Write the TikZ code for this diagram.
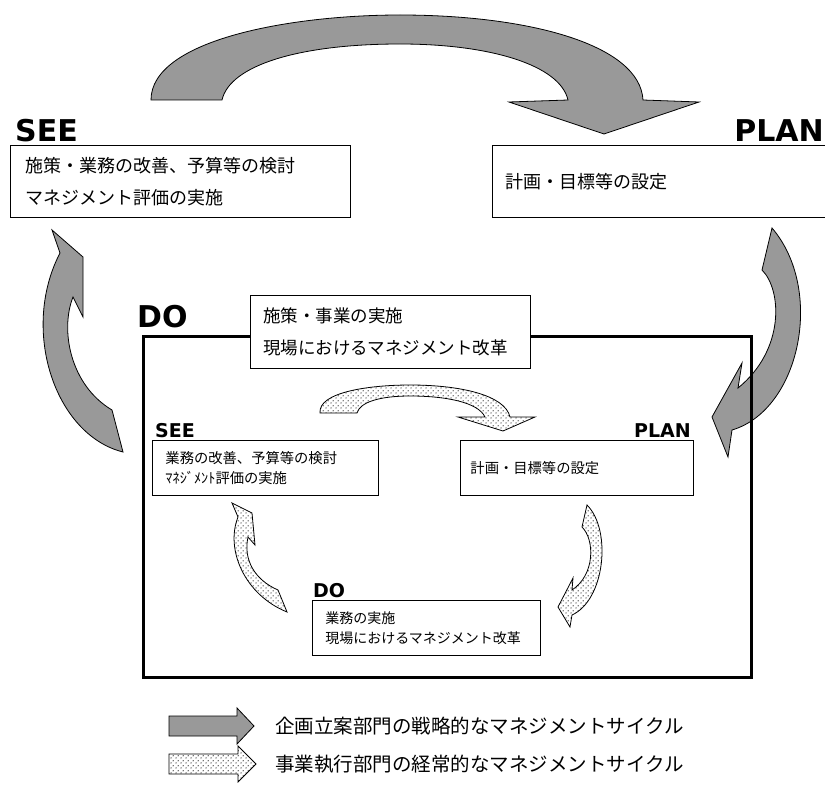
\documentclass[tikz,border=0pt]{standalone}
\usepackage{fontspec}
\newfontfamily\cjk{Noto Sans CJK JP}
\newfontfamily\lblfont{DejaVu Sans Bold}
\usetikzlibrary{patterns}
\definecolor{arrowgray}{RGB}{153,153,153}
\pgfdeclarepatternformonly{sdots}{\pgfqpoint{0pt}{0pt}}{\pgfqpoint{5pt}{5pt}}{\pgfqpoint{5pt}{5pt}}{%
  \pgfpathcircle{\pgfqpoint{1.25pt}{1.25pt}}{0.8pt}%
  \pgfpathcircle{\pgfqpoint{3.75pt}{3.75pt}}{0.8pt}%
  \pgfusepath{fill}}
\tikzset{
  biglbl/.style={font=\lblfont\fontsize{30}{30}\selectfont, inner sep=0pt},
  smalllbl/.style={font=\lblfont\fontsize{19}{19}\selectfont, inner sep=0pt},
  bigbox/.style={draw, line width=0.9pt, fill=white, anchor=north west, inner ysep=0pt, align=left,
    font=\cjk\fontsize{18}{32}\selectfont},
  smallbox/.style={draw, line width=0.9pt, fill=white, anchor=north west, inner ysep=0pt, align=left,
    font=\cjk\fontsize{14.3}{20}\selectfont},
  bigarrow/.style={draw=black, line width=0.8pt, fill=arrowgray},
  smallarrow/.style={draw=black, line width=0.8pt, preaction={fill=white}, pattern=sdots, pattern color=black!75},
  legtext/.style={font=\cjk\fontsize{19.5}{20}\selectfont, inner sep=0pt, anchor=west}
}
\begin{document}
\begin{tikzpicture}[x=1pt,y=-1pt]
\useasboundingbox (0,0) rectangle (825,789);
\fill[white] (0,0) rectangle (825,789);

% big top arrow
\path[bigarrow] (151,100) .. controls (151,40) and (290,15) .. (400,15)
  .. controls (530,15) and (640,45) .. (643,100) -- (699,102) -- (604,134) -- (509,102) -- (568,100)
  .. controls (560,65) and (490,44) .. (400,44) .. controls (300,44) and (230,65) .. (222,100) -- cycle;

% big left arrow
\path[bigarrow] (52,230) -- (83,257) -- (83,317) -- (73,297)
  .. controls (60,330) and (70,385) .. (112,410) -- (123,452)
  .. controls (55,435) and (20,330) .. (60,253) -- cycle;

% big right arrow
\path[bigarrow] (772,228) -- (762,270) .. controls (782,290) and (785,350) .. (738,388)
  -- (742,363) -- (712,417) -- (728,457) -- (732,430)
  .. controls (800,410) and (825,290) .. (772,228) -- cycle;

% labels and boxes (outer cycle)
\node[biglbl, anchor=base west] (seelbl) at (15,142) {SEE};
\node[biglbl, anchor=base east] (planlbl) at (824,142) {PLAN};
\node[bigbox, minimum width=340pt, minimum height=72pt, inner xsep=15pt, text width=310pt] (seebox) at (10,145)
  {施策・業務の改善、予算等の検討\\マネジメント評価の実施};
\node[bigbox, minimum width=348pt, minimum height=72pt, inner xsep=13pt, text width=322pt] (planbox) at (492,145)
  {計画・目標等の設定};

% DO frame
\node[draw, line width=3pt, minimum width=608pt, minimum height=341pt, anchor=north west, inner sep=0pt] (doframe) at (142,335) {};
\node[biglbl, anchor=base west] (dolbl) at (137,327) {DO};
\node[bigbox, minimum width=280pt, minimum height=73pt, inner xsep=13pt, text width=254pt,
  font=\cjk\fontsize{17.5}{32}\selectfont] (dobox) at (250,295)
  {施策・事業の実施\\現場におけるマネジメント改革};

% inner cycle
\path[smallarrow] (320,413) .. controls (318,392) and (370,385) .. (410,385)
  .. controls (460,385) and (505,395) .. (510,417) -- (535,417) -- (503,431) -- (458,417) -- (485,417)
  .. controls (478,402) and (445,396) .. (410,396) .. controls (380,396) and (360,402) .. (357,413) -- cycle;
\path[smallarrow] (232,503) -- (252,513) -- (255,545) -- (248,537)
  .. controls (243,560) and (255,580) .. (278,590) -- (287,612)
  .. controls (245,595) and (225,550) .. (238,517) -- cycle;
\path[smallarrow] (587,505) -- (582,527) .. controls (595,540) and (595,575) .. (572,590)
  -- (573,578) -- (558,607) -- (570,627) -- (572,615)
  .. controls (605,600) and (612,530) .. (587,505) -- cycle;

\node[smalllbl, anchor=base west] (iseelbl) at (155,437) {SEE};
\node[smalllbl, anchor=base east] (iplanlbl) at (691,437) {PLAN};
\node[smalllbl, anchor=base west] (idolbl) at (313,597) {DO};
\node[smallbox, minimum width=226pt, minimum height=55pt, inner xsep=13pt, text width=200pt] (iseebox) at (152,440)
  {業務の改善、予算等の検討\\ﾏﾈｼﾞﾒﾝﾄ評価の実施};
\node[smallbox, minimum width=233pt, minimum height=55pt, inner xsep=10pt, text width=213pt] (iplanbox) at (460,440)
  {計画・目標等の設定};
\node[smallbox, minimum width=228pt, minimum height=55pt, inner xsep=13pt, text width=202pt,
  font=\cjk\fontsize{14}{20}\selectfont] (idobox) at (312,600)
  {業務の実施\\現場におけるマネジメント改革};

% legend
\path[bigarrow] (169,716) -- (237,716) -- (237,708) -- (254,726) -- (237,744) -- (237,736) -- (169,736) -- cycle;
\node[legtext] (leg1) at (275,726) {企画立案部門の戦略的なマネジメントサイクル};
\path[smallarrow] (169,754) -- (238,754) -- (238,746) -- (256,764) -- (238,782) -- (238,774) -- (169,774) -- cycle;
\node[legtext] (leg2) at (275,764) {事業執行部門の経常的なマネジメントサイクル};
\end{tikzpicture}
\end{document}
